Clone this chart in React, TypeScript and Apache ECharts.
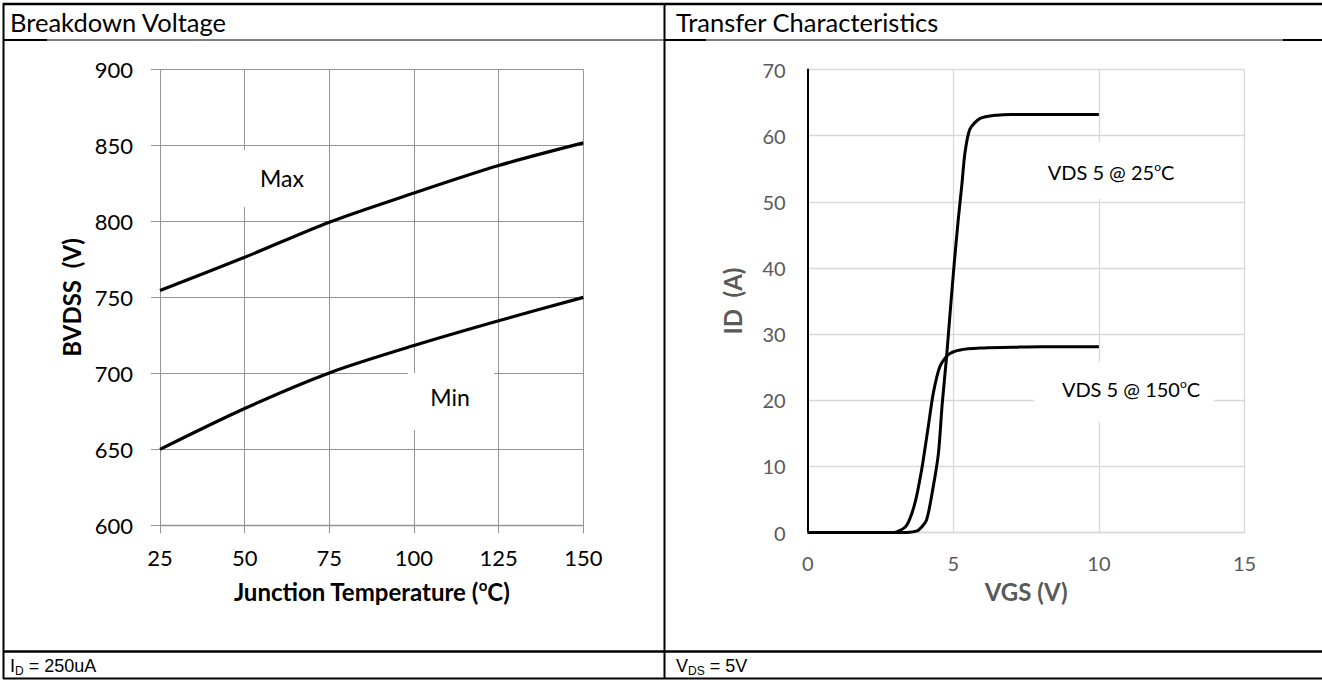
import React, { useEffect, useRef } from 'react';
import * as echarts from 'echarts';

// Breakdown voltage vs junction temperature
const bvTemps = [25, 50, 75, 100, 125, 150];
const bvMax = [754.5, 776.4, 799.5, 818.7, 836.8, 851.7];
const bvMin = [650, 676.9, 700.3, 718.3, 734.6, 750];

// Transfer characteristics (VGS, ID)
const transfer25: number[][] = [
  [0, 0], [1, 0], [2, 0], [3, 0], [3.5, 0.05], [3.8, 0.35], [4.08, 1.9], [4.31, 6.9],
  [4.49, 12], [4.62, 19.5], [4.77, 26.6], [4.89, 33.2], [5.02, 40.1], [5.17, 47.3],
  [5.29, 52.4], [5.4, 57.4], [5.57, 61], [5.92, 62.6], [6.5, 63.1], [7, 63.2],
  [8, 63.2], [9, 63.2], [10, 63.2],
];
const transfer150: number[][] = [
  [0, 0], [1, 0], [2, 0], [2.8, 0], [3.06, 0.1], [3.4, 1.1], [3.68, 4.4], [3.91, 9.4],
  [4.14, 16], [4.31, 21], [4.54, 25.1], [4.83, 26.9], [5.23, 27.6], [5.92, 27.9],
  [7, 28], [8, 28.1], [10, 28.1],
];

const FONT = 'Lato, "Open Sans", sans-serif';
const NARROW = '"Liberation Sans Narrow", "Liberation Sans", Arial, sans-serif';

export default function App() {
  const ref = useRef<HTMLDivElement>(null);
  useEffect(() => {
    document.body.style.margin = '0';
    const chart = echarts.init(ref.current!, null, { renderer: 'svg' });
    const leftGray = '#959595';
    const rightGrid = '#d9d9d9';
    const rightText = '#595959';
    const supRich = (color: string, size: number, bold: boolean) => ({
      b: { fontFamily: FONT, fontSize: size, fontWeight: bold ? 'bold' : 'normal', color, lineHeight: size + 4 },
      sup: { fontFamily: FONT, fontSize: Math.round(size * 0.62), fontWeight: bold ? 'bold' : 'normal', color, verticalAlign: 'top', lineHeight: size + 4 },
    });
    const line = (x1: number, y1: number, x2: number, y2: number, w: number) => ({
      type: 'line', shape: { x1, y1, x2, y2 }, style: { stroke: '#000', lineWidth: w }, z: 100,
    });
    const labelRich = {
      a: { fontFamily: FONT, fontSize: 20, fill: '#000', lineHeight: 24 },
      s: { fontFamily: FONT, fontSize: 12, fill: '#000', verticalAlign: 'top', lineHeight: 24 },
    };
    const option: any = {
      animation: false,
      backgroundColor: '#fff',
      grid: [
        { left: 160, right: 1322 - 583.3, top: 69.5, bottom: 680 - 525.3, outerBoundsMode: 'none' },
        { left: 807.7, right: 1322 - 1244.5, top: 69.5, bottom: 680 - 532.5, outerBoundsMode: 'none' },
      ],
      xAxis: [
        {
          gridIndex: 0, type: 'value', min: 25, max: 150, interval: 25,
          axisLine: { show: true, lineStyle: { color: leftGray, width: 1.3 } },
          axisTick: { show: true, length: 8, lineStyle: { color: leftGray } },
          axisLabel: { color: '#000', fontFamily: FONT, fontSize: 22, margin: 21 },
          splitLine: { show: true, lineStyle: { color: leftGray, width: 1 } },
          name: '{b|Junction Temperature (}{sup|o}{b|C)}',
          nameLocation: 'middle', nameGap: 52,
          nameTextStyle: { rich: supRich('#000', 24, true) },
        },
        {
          gridIndex: 1, type: 'value', min: 0, max: 15, interval: 5,
          axisLine: { show: true, lineStyle: { color: rightGrid, width: 1.3 } },
          axisTick: { show: false },
          axisLabel: { color: rightText, fontFamily: FONT, fontSize: 20, margin: 20 },
          splitLine: { show: true, lineStyle: { color: rightGrid, width: 1.3 } },
          name: 'VGS (V)', nameLocation: 'middle', nameGap: 47,
          nameTextStyle: { color: rightText, fontFamily: FONT, fontSize: 24, fontWeight: 'bold' },
        },
      ],
      yAxis: [
        {
          gridIndex: 0, type: 'value', min: 600, max: 900, interval: 50,
          axisLine: { show: true, lineStyle: { color: leftGray, width: 1 } },
          axisTick: { show: true, length: 9, lineStyle: { color: leftGray } },
          axisLabel: { color: '#000', fontFamily: FONT, fontSize: 22, margin: 27 },
          splitLine: { show: true, lineStyle: { color: leftGray, width: 1 } },
          name: 'BVDSS  (V)', nameLocation: 'middle', nameGap: 77, nameRotate: 90,
          nameTextStyle: { color: '#000', fontFamily: FONT, fontSize: 24, fontWeight: 'bold' },
        },
        {
          gridIndex: 1, type: 'value', min: 0, max: 70, interval: 10,
          axisLine: { show: true, lineStyle: { color: '#000', width: 2 } },
          axisTick: { show: false },
          axisLabel: { color: rightText, fontFamily: FONT, fontSize: 20, margin: 22 },
          splitLine: { show: true, lineStyle: { color: rightGrid, width: 1.3 } },
          name: 'ID  (A)', nameLocation: 'middle', nameGap: 63, nameRotate: 90,
          nameTextStyle: { color: rightText, fontFamily: FONT, fontSize: 24, fontWeight: 'bold' },
        },
      ],
      series: [
        {
          name: 'Max', type: 'line', xAxisIndex: 0, yAxisIndex: 0, smooth: 0.3, showSymbol: false,
          data: bvTemps.map((t, i) => [t, bvMax[i]]),
          lineStyle: { color: '#000', width: 3.2 },
        },
        {
          name: 'Min', type: 'line', xAxisIndex: 0, yAxisIndex: 0, smooth: 0.3, showSymbol: false,
          data: bvTemps.map((t, i) => [t, bvMin[i]]),
          lineStyle: { color: '#000', width: 3.2 },
        },
        {
          name: 'VDS 5 @ 25oC', type: 'line', xAxisIndex: 1, yAxisIndex: 1, smooth: 0.25,
          showSymbol: false, data: transfer25, lineStyle: { color: '#000', width: 3 },
        },
        {
          name: 'VDS 5 @ 150oC', type: 'line', xAxisIndex: 1, yAxisIndex: 1, smooth: 0.25,
          showSymbol: false, data: transfer150, lineStyle: { color: '#000', width: 3 },
        },
      ],
      graphic: [
        // label boxes
        { type: 'rect', shape: { x: 238, y: 150, width: 88, height: 57 }, style: { fill: '#fff' }, z: 50 },
        { type: 'text', x: 282, y: 178, style: { text: 'Max', fontFamily: FONT, fontSize: 23, fill: '#000', align: 'center', verticalAlign: 'middle' }, z: 51 },
        { type: 'rect', shape: { x: 408, y: 373, width: 86, height: 57 }, style: { fill: '#fff' }, z: 50 },
        { type: 'text', x: 450, y: 397, style: { text: 'Min', fontFamily: FONT, fontSize: 23, fill: '#000', align: 'center', verticalAlign: 'middle' }, z: 51 },
        { type: 'rect', shape: { x: 1033, y: 142, width: 157, height: 57 }, style: { fill: '#fff' }, z: 50 },
        {
          type: 'text', x: 1111, y: 172, z: 51,
          style: { text: '{a|VDS 5 @ 25}{s|o}{a|C}', align: 'center', verticalAlign: 'middle', rich: labelRich },
        },
        { type: 'rect', shape: { x: 1034, y: 362, width: 180, height: 60 }, style: { fill: '#fff' }, z: 50 },
        {
          type: 'text', x: 1131, y: 389, z: 51,
          style: { text: '{a|VDS 5 @ 150}{s|o}{a|C}', align: 'center', verticalAlign: 'middle', rich: labelRich },
        },
        // table lines
        line(3, 4, 1322, 4, 2.5),
        line(3.5, 3, 3.5, 679, 2),
        line(664.5, 3, 664.5, 679, 2),
        line(3, 40, 1322, 40, 1),
        line(3, 40, 47, 40, 2),
        line(664, 40, 706, 40, 2),
        line(1283, 40, 1322, 40, 2),
        line(3, 651.5, 1322, 651.5, 2.5),
        line(3, 678.5, 1322, 678.5, 2),
        // header texts
        { type: 'text', x: 10, y: 22, z: 101, style: { text: 'Breakdown Voltage', fontFamily: FONT, fontSize: 25.5, fill: '#000', verticalAlign: 'middle' } },
        { type: 'text', x: 676, y: 22, z: 101, style: { text: 'Transfer Characteristics', fontFamily: FONT, fontSize: 25.5, fill: '#000', verticalAlign: 'middle' } },
        {
          type: 'text', x: 10, y: 666, z: 101,
          style: {
            text: '{a|I}{s|D}{a| = 250uA}', verticalAlign: 'middle',
            rich: {
              a: { fontFamily: NARROW, fontSize: 18, fill: '#000', lineHeight: 22 },
              s: { fontFamily: NARROW, fontSize: 12, fill: '#000', verticalAlign: 'bottom', lineHeight: 22 },
            },
          },
        },
        {
          type: 'text', x: 676, y: 666, z: 101,
          style: {
            text: '{a|V}{s|DS}{a| = 5V}', verticalAlign: 'middle',
            rich: {
              a: { fontFamily: NARROW, fontSize: 18, fill: '#000', lineHeight: 22 },
              s: { fontFamily: NARROW, fontSize: 12, fill: '#000', verticalAlign: 'bottom', lineHeight: 22 },
            },
          },
        },
      ],
    };
    chart.setOption(option);
    return () => chart.dispose();
  }, []);
  return <div ref={ref} style={{ width: 1322, height: 680, position: 'fixed', left: 0, top: 0 }} />;
}
